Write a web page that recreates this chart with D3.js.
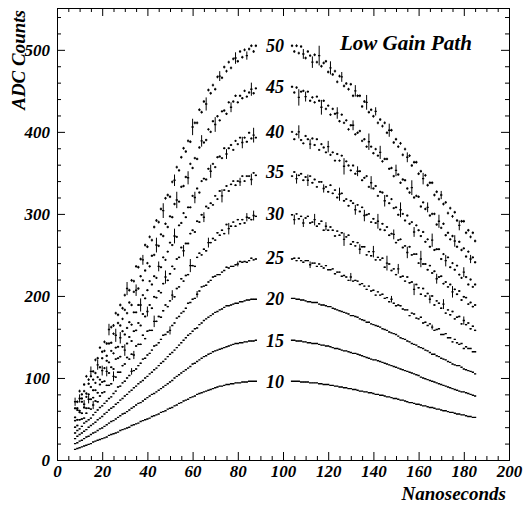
<!DOCTYPE html>
<html><head><meta charset="utf-8">
<script src="https://cdn.jsdelivr.net/npm/d3@7"></script>
<style>
html,body{margin:0;padding:0;background:#fff;}
svg{display:block;}
text{font-family:"Liberation Serif","Times New Roman",serif;font-weight:bold;font-style:italic;fill:#000;}
</style></head><body>
<svg id="chart" width="523" height="506"></svg>
<script>
// Sampling times (ns) of the rising and falling parts of each pulse
const riseTimes = [8,9,10,11,12,13,14,15,16,17,18,19,20,21,22,23,24,25,26,27,28,29,30,31,32,33,34,35,36,37,38,39,40,41,42,43,44,45,46,47,48,49,50,51,52,53,54,55,56,57,58,59,60,61,62,63,64,65,66,67,68,69,70,71,72,73,74,75,76,77,78,79,80,81,82,83,84,85,86,87,88];
const fallTimes = [104,105,106,107,108,109,110,111,112,113,114,115,116,117,118,119,120,121,122,123,124,125,126,127,128,129,130,131,132,133,134,135,136,137,138,139,140,141,142,143,144,145,146,147,148,149,150,151,152,153,154,155,156,157,158,159,160,161,162,163,164,165,166,167,168,169,170,171,172,173,174,175,176,177,178,179,180,181,182,183,184,185];

const amplitudes = ["10","15","20","25","30","35","40","45","50"];

// Mean ADC counts per time sample
const rise10 = [13,14,15,16,17,18,19,20,22,23,24,25,26,27,28,30,31,32,33,34,36,37,38,39,40,42,43,44,45,47,48,49,50,51,53,54,55,56,58,59,60,62,63,64,66,67,69,70,72,73,74,76,77,78,80,81,82,83,84,85,86,87,88,89,90,90,91,92,92,93,93,94,94,94,95,95,95,96,96,96,96];
const fall10 = [96,96,96,96,95,95,95,95,94,94,94,94,93,93,92,92,92,91,91,90,90,89,89,88,88,87,87,86,86,85,84,84,83,83,82,82,81,80,80,79,79,78,77,77,76,75,75,74,73,73,72,71,70,70,69,68,68,67,66,66,65,64,64,63,62,62,61,60,60,59,58,58,57,56,56,55,55,54,53,53,52,52];

const rise15 = [20,21,23,24,26,28,29,31,33,34,36,38,39,41,43,45,47,48,50,52,54,56,57,59,61,63,65,67,69,70,72,74,76,78,80,81,83,85,87,89,91,93,95,97,100,102,104,106,108,110,112,114,117,118,120,122,124,126,127,129,130,132,133,134,135,136,137,138,139,140,141,142,142,143,143,144,144,145,145,145,146];
const fall15 = [146,146,145,145,145,144,144,143,143,142,142,142,141,140,140,139,139,138,137,136,136,135,134,133,133,132,131,130,130,129,128,127,126,125,124,123,122,122,121,120,119,118,117,116,115,114,113,112,111,110,109,108,107,106,105,104,103,101,100,99,98,97,96,95,94,93,92,91,90,89,88,87,86,85,84,83,83,82,81,80,79,78];

const rise20 = [26,29,31,33,35,37,40,42,44,46,49,51,53,56,58,61,63,65,68,70,73,75,78,80,83,85,88,90,93,95,97,100,102,105,107,110,112,115,118,120,123,126,129,131,134,137,140,143,146,149,152,154,157,160,161,165,167,170,172,174,176,178,180,181,183,184,186,188,188,189,190,191,191,193,193,194,195,195,196,196,196];
const fall20 = [197,197,196,196,195,195,194,193,193,192,192,192,190,189,189,188,187,187,185,184,183,182,181,180,179,178,176,176,175,174,172,171,170,168,168,166,165,164,163,162,160,159,158,156,155,154,153,151,149,148,147,145,144,142,141,140,138,137,136,134,133,131,129,129,127,126,124,123,122,120,119,117,116,115,115,113,111,110,109,108,107,105];

const rise25 = [33,36,38,41,45,47,49,51,55,58,61,64,66,69,72,75,77,81,84,89,90,94,96,100,103,108,109,111,115,118,123,124,128,130,134,139,140,143,147,152,153,156,158,164,167,173,175,179,181,185,191,192,196,197,202,206,211,212,213,217,219,223,224,226,226,229,231,235,234,236,236,238,239,242,241,242,241,243,246,244,245];
const fall25 = [245,246,243,246,243,241,243,243,238,240,240,236,239,236,234,237,232,232,233,227,229,229,224,225,223,219,223,218,219,218,214,215,212,208,212,206,207,201,205,201,202,197,198,193,196,191,188,189,188,184,183,183,176,179,178,173,172,174,167,168,164,166,162,158,159,160,153,153,154,149,149,144,147,143,141,142,136,138,136,136,132,132];

const rise30 = [40,42,49,50,51,57,63,62,67,72,71,78,82,83,91,91,93,102,101,107,107,115,117,125,123,129,128,139,141,141,152,148,157,158,158,169,169,175,174,182,189,187,194,201,199,209,211,221,218,225,226,237,237,236,247,252,250,257,255,265,265,270,268,277,274,280,276,287,282,285,290,285,293,288,293,289,296,295,293,298,297];
const fall30 = [299,293,300,294,297,289,295,297,289,290,293,285,288,291,280,285,280,284,280,273,279,274,277,269,272,274,263,266,261,265,257,260,260,250,254,249,254,244,247,244,246,235,240,239,231,233,226,233,223,224,218,223,216,217,208,214,210,202,209,200,203,196,200,189,194,191,185,190,179,183,177,181,172,174,175,166,170,165,167,160,163,158];

const rise35 = [48,49,58,57,64,63,74,74,76,85,82,92,95,96,108,106,113,111,123,124,126,138,134,142,150,145,157,158,167,164,178,175,181,189,185,199,198,206,204,215,223,219,227,236,233,245,247,259,255,264,264,276,280,278,291,290,299,296,309,307,313,311,322,318,328,322,329,334,328,336,340,335,340,339,346,340,346,346,342,350,347];
const fall35 = [346,351,343,347,349,341,345,341,346,338,342,333,339,339,331,333,327,335,325,329,320,324,325,316,318,310,316,313,305,311,303,308,298,299,300,290,294,289,291,281,288,280,284,274,276,275,265,268,269,259,261,253,260,250,251,251,240,245,239,239,232,237,228,230,221,223,224,215,217,211,214,205,208,202,206,195,199,198,190,192,187,189];

const rise40 = [52,61,60,71,68,77,80,89,85,94,101,98,109,112,121,119,133,130,137,138,149,157,153,161,168,165,180,180,189,189,201,197,207,218,214,224,222,236,235,247,244,254,265,262,273,272,286,289,301,296,308,308,322,320,331,326,340,343,342,355,352,361,357,369,370,368,380,373,380,384,378,389,385,393,387,393,388,399,392,396,393];
const fall40 = [400,391,397,400,390,386,395,391,385,392,384,391,378,385,381,375,382,372,375,365,373,365,371,358,364,359,353,359,349,352,352,341,344,346,333,338,331,334,322,327,326,316,322,313,318,307,308,299,305,300,292,298,288,290,278,286,280,273,278,266,269,260,268,256,257,257,245,251,243,247,235,240,232,237,226,222,229,223,214,220,211,214];

const rise45 = [63,63,75,75,84,81,93,102,98,106,116,113,124,133,127,142,143,154,152,167,164,172,183,179,192,189,205,207,209,224,219,231,240,236,249,250,262,261,275,273,288,284,297,296,312,317,315,333,334,345,344,361,356,368,367,381,389,387,390,403,400,413,409,419,414,425,426,422,436,430,437,444,436,444,441,450,443,448,452,447,453];
const fall45 = [455,448,454,442,449,450,443,449,438,442,436,443,438,430,438,428,432,421,428,422,423,413,421,411,414,403,408,408,397,399,401,389,391,382,388,382,374,379,371,375,364,367,367,355,356,346,353,348,338,342,341,331,326,332,320,322,321,309,314,306,308,298,300,300,287,291,283,288,274,277,269,273,267,260,266,256,258,248,254,245,247,241];

const rise50 = [71,71,84,80,92,102,98,108,108,122,124,137,132,144,142,159,162,164,179,177,189,185,201,209,207,219,218,236,235,245,244,262,260,272,268,284,292,290,306,304,319,323,321,339,341,357,353,369,380,376,389,388,406,411,411,427,424,437,434,451,447,457,452,467,468,466,479,474,485,478,489,490,486,498,491,500,493,501,505,498,505];
const fall50 = [505,498,505,496,504,495,490,498,493,485,494,485,493,480,484,486,473,478,470,474,461,468,467,456,459,452,458,444,450,444,444,431,437,436,424,427,419,425,411,415,407,411,399,402,402,387,391,382,386,372,379,369,371,359,363,363,349,352,343,347,335,338,338,323,327,318,323,312,314,301,307,297,302,292,286,291,291,277,280,272,277,267];

// Typical statistical error (ADC counts) for each amplitude
const baseError = [0.2, 0.3, 0.4, 0.6, 0.9, 1.1, 1.3, 1.5, 1.7];

// Samples with large errors: [time, error]
const err10 = [];
const err15 = [];
const err20 = [];
const err25 = [[33,4],[50,5],[62,4],[80,3],[112,4],[130,5],[148,4],[166,3]];
const err30 = [[16,5],[25,6],[34,5],[43,7],[51,6],[59,8],[67,6],[76,7],[84,5],[87,6],[105,6],[109,5],[114,7],[119,5],[127,8],[134,6],[140,7],[146,9],[151,6],[158,7],[165,5],[171,6],[180,5]];
const err35 = [[14,5],[22,6],[30,7],[40,6],[48,8],[56,7],[65,6],[73,8],[81,5],[86,7],[106,6],[111,7],[118,5],[125,8],[132,6],[136,7],[142,9],[149,6],[155,7],[161,10],[168,6],[175,7]];
const err40 = [[12,5],[20,6],[28,7],[37,8],[45,6],[52,9],[61,7],[68,8],[75,6],[82,7],[87,9],[107,8],[112,6],[120,7],[127,10],[133,6],[139,8],[145,7],[152,9],[158,6],[166,8],[172,7],[180,6]];
const err45 = [[10,5],[18,6],[26,8],[35,7],[44,9],[53,10],[58,8],[64,7],[70,9],[77,6],[86,8],[107,10],[110,6],[117,9],[124,7],[131,6],[138,10],[143,8],[150,7],[157,9],[164,6],[169,8],[176,7],[183,5]];
const err50 = [[8,5],[15,6],[23,7],[31,8],[38,6],[47,9],[52,7],[60,10],[66,8],[72,6],[79,7],[84,5],[109,6],[113,7],[116,12],[121,8],[126,6],[132,7],[137,9],[141,5],[147,8],[155,6],[162,7],[170,5],[178,6]];

const xTicks = [0,20,40,60,80,100,120,140,160,180,200];
const yTicks = [0,100,200,300,400,500];

// ---- drawing ----
const svg = d3.select("#chart");
const x = d3.scaleLinear().domain([0, 200]).range([57, 509]);
const y = d3.scaleLinear().domain([0, 551]).range([460, 8]);

const xMinor = d3.range(0, 201, 5).filter(v => v % 20 !== 0);
const yMinor = d3.range(0, 551, 20).filter(v => v % 100 !== 0);

function styleAxis(g) {
  g.select(".domain").remove();
  g.attr("font-family", null).attr("font-size", null);
  g.selectAll("line").attr("stroke", "#000");
  g.selectAll("text").style("font-size", "17px");
}

// bottom
svg.append("g").attr("transform", "translate(0,460)")
  .call(d3.axisBottom(x).tickValues(xTicks).tickSize(-8).tickPadding(5).tickFormat(d3.format("d")))
  .call(styleAxis);
svg.append("g").attr("transform", "translate(0,460)")
  .call(d3.axisBottom(x).tickValues(xMinor).tickSize(-4).tickFormat(""))
  .call(styleAxis);
// top
svg.append("g").attr("transform", "translate(0,8)")
  .call(d3.axisTop(x).tickValues(xTicks).tickSize(-8).tickFormat(""))
  .call(styleAxis);
svg.append("g").attr("transform", "translate(0,8)")
  .call(d3.axisTop(x).tickValues(xMinor).tickSize(-4).tickFormat(""))
  .call(styleAxis);
// left
svg.append("g").attr("transform", "translate(57,0)")
  .call(d3.axisLeft(y).tickValues(yTicks).tickSize(-8).tickPadding(7).tickFormat(d3.format("d")))
  .call(styleAxis);
svg.append("g").attr("transform", "translate(57,0)")
  .call(d3.axisLeft(y).tickValues(yMinor).tickSize(-4).tickFormat(""))
  .call(styleAxis);
// right
svg.append("g").attr("transform", "translate(509,0)")
  .call(d3.axisRight(y).tickValues(yTicks).tickSize(-8).tickFormat(""))
  .call(styleAxis);
svg.append("g").attr("transform", "translate(509,0)")
  .call(d3.axisRight(y).tickValues(yMinor).tickSize(-4).tickFormat(""))
  .call(styleAxis);

// frame
svg.append("rect")
  .attr("x", x(0) + 0.5).attr("y", y(551) + 0.5)
  .attr("width", x(200) - x(0)).attr("height", y(0) - y(551))
  .attr("fill", "none").attr("stroke", "#000").attr("stroke-width", 1);

// pulses
const riseSeries = [rise10, rise15, rise20, rise25, rise30, rise35, rise40, rise45, rise50];
const fallSeries = [fall10, fall15, fall20, fall25, fall30, fall35, fall40, fall45, fall50];
const errSeries = [err10, err15, err20, err25, err30, err35, err40, err45, err50];

const pulses = svg.append("g");
amplitudes.forEach((amp, k) => {
  const big = new Map(errSeries[k]);
  const pts = riseTimes.map((t, i) => [t, riseSeries[k][i]])
    .concat(fallTimes.map((t, i) => [t, fallSeries[k][i]]));
  let hPath = "", vPath = "";
  pts.forEach(([t, v]) => {
    const e = big.has(t) ? big.get(t) : baseError[k];
    hPath += `M${x(t - 0.5)},${y(v)}H${x(t + 0.5)}`;
    vPath += `M${x(t)},${y(v - e)}V${y(v + e)}`;
  });
  pulses.append("path").attr("d", hPath).attr("fill", "none")
    .attr("stroke", "#000").attr("stroke-width", 1.4);
  pulses.append("path").attr("d", vPath).attr("fill", "none")
    .attr("stroke", "#000").attr("stroke-width", 1);

  const peak = d3.max(pts, d => d[1]);
  svg.append("text")
    .attr("x", x(96.5)).attr("y", y(peak))
    .attr("dy", "0.35em")
    .attr("text-anchor", "middle")
    .style("font-size", "18px")
    .text(amp);
});

// titles
svg.append("text")
  .attr("x", 340).attr("y", 50)
  .style("font-size", "21px")
  .text("Low Gain Path");

svg.append("text")
  .attr("transform", "translate(25,10) rotate(-90)")
  .attr("text-anchor", "end")
  .style("font-size", "19px")
  .text("ADC Counts");

svg.append("text")
  .attr("x", 506).attr("y", 500)
  .attr("text-anchor", "end")
  .style("font-size", "19px")
  .text("Nanoseconds");
</script>
</body></html>
